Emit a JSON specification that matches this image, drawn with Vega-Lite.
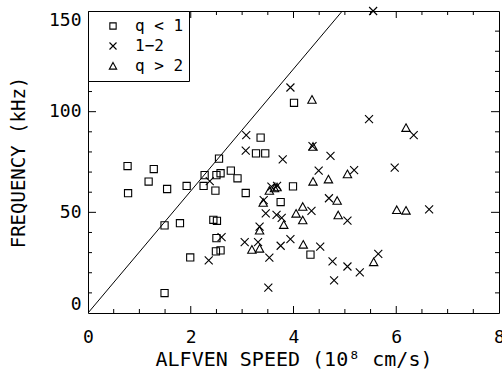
{
  "$schema": "https://vega.github.io/schema/vega-lite/v6.json",
  "width": 411,
  "height": 302,
  "autosize": {"type": "none"},
  "padding": {"left": 88, "top": 11, "right": 3, "bottom": 64},
  "background": "white",
  "config": {
    "view": {"stroke": "black", "strokeWidth": 1, "fill": "transparent"},
    "axis": {
      "grid": false,
      "domain": false,
      "ticks": false,
      "labelColor": "black",
      "titleColor": "black",
      "labelFont": "DejaVu Sans Mono",
      "titleFont": "DejaVu Sans Mono",
      "labelFontSize": 18,
      "titleFontSize": 19,
      "titleFontWeight": "normal"
    },
    "tick": {"thickness": 1, "color": "black", "opacity": 1},
    "legend": {
      "orient": "top-left",
      "offset": 0,
      "padding": 5,
      "strokeColor": "black",
      "fillColor": "white",
      "labelFont": "DejaVu Sans Mono",
      "labelFontSize": 16,
      "labelColor": "black",
      "symbolOffset": 12,
      "labelOffset": 14,
      "rowPadding": 0,
      "clipHeight": 20,
      "symbolStrokeWidth": 1.1,
      "symbolStrokeColor": "black",
      "symbolSize": 49,
      "zindex": 2
    }
  },
  "datasets": {
    "pts": [
      {"speed": 0.78, "freq": 59.5, "q": "q < 1"},
      {"speed": 0.77, "freq": 73, "q": "q < 1"},
      {"speed": 1.18, "freq": 65.3, "q": "q < 1"},
      {"speed": 1.28, "freq": 71.5, "q": "q < 1"},
      {"speed": 1.54, "freq": 61.6, "q": "q < 1"},
      {"speed": 1.49, "freq": 43.5, "q": "q < 1"},
      {"speed": 1.49, "freq": 9.9, "q": "q < 1"},
      {"speed": 1.79, "freq": 44.6, "q": "q < 1"},
      {"speed": 1.92, "freq": 63.1, "q": "q < 1"},
      {"speed": 1.99, "freq": 27.6, "q": "q < 1"},
      {"speed": 2.25, "freq": 63.1, "q": "q < 1"},
      {"speed": 2.27, "freq": 68.5, "q": "q < 1"},
      {"speed": 2.44, "freq": 46.3, "q": "q < 1"},
      {"speed": 2.48, "freq": 60.8, "q": "q < 1"},
      {"speed": 2.5, "freq": 68.5, "q": "q < 1"},
      {"speed": 2.51, "freq": 45.8, "q": "q < 1"},
      {"speed": 2.5, "freq": 37.2, "q": "q < 1"},
      {"speed": 2.49, "freq": 30.6, "q": "q < 1"},
      {"speed": 2.58, "freq": 31.1, "q": "q < 1"},
      {"speed": 2.55, "freq": 76.7, "q": "q < 1"},
      {"speed": 2.58, "freq": 69.4, "q": "q < 1"},
      {"speed": 2.78, "freq": 70.7, "q": "q < 1"},
      {"speed": 2.91, "freq": 66.9, "q": "q < 1"},
      {"speed": 3.07, "freq": 59.6, "q": "q < 1"},
      {"speed": 3.36, "freq": 87.1, "q": "q < 1"},
      {"speed": 3.27, "freq": 79.3, "q": "q < 1"},
      {"speed": 3.45, "freq": 79.3, "q": "q < 1"},
      {"speed": 3.75, "freq": 55.1, "q": "q < 1"},
      {"speed": 3.99, "freq": 62.9, "q": "q < 1"},
      {"speed": 4.01, "freq": 104.4, "q": "q < 1"},
      {"speed": 4.33, "freq": 29.0, "q": "q < 1"},
      {"speed": 5.55, "freq": 150, "q": "1−2"},
      {"speed": 3.94, "freq": 112, "q": "1−2"},
      {"speed": 5.47, "freq": 96.3, "q": "1−2"},
      {"speed": 6.34, "freq": 88.4, "q": "1−2"},
      {"speed": 3.08, "freq": 88.4, "q": "1−2"},
      {"speed": 3.07, "freq": 80.6, "q": "1−2"},
      {"speed": 3.79, "freq": 76.3, "q": "1−2"},
      {"speed": 4.72, "freq": 78, "q": "1−2"},
      {"speed": 4.49, "freq": 70.7, "q": "1−2"},
      {"speed": 5.18, "freq": 71, "q": "1−2"},
      {"speed": 5.97, "freq": 72.2, "q": "1−2"},
      {"speed": 4.37, "freq": 82.9, "q": "1−2"},
      {"speed": 4.69, "freq": 57, "q": "1−2"},
      {"speed": 4.35, "freq": 50.7, "q": "1−2"},
      {"speed": 5.05, "freq": 45.9, "q": "1−2"},
      {"speed": 6.64, "freq": 51.5, "q": "1−2"},
      {"speed": 3.46, "freq": 49.5, "q": "1−2"},
      {"speed": 3.42, "freq": 56.1, "q": "1−2"},
      {"speed": 3.67, "freq": 48.7, "q": "1−2"},
      {"speed": 3.77, "freq": 47.2, "q": "1−2"},
      {"speed": 3.57, "freq": 62.8, "q": "1−2"},
      {"speed": 3.68, "freq": 63.1, "q": "1−2"},
      {"speed": 3.34, "freq": 42.9, "q": "1−2"},
      {"speed": 3.05, "freq": 35.2, "q": "1−2"},
      {"speed": 3.31, "freq": 35.2, "q": "1−2"},
      {"speed": 2.6, "freq": 37.7, "q": "1−2"},
      {"speed": 2.35, "freq": 26.1, "q": "1−2"},
      {"speed": 3.53, "freq": 27.5, "q": "1−2"},
      {"speed": 3.51, "freq": 12.6, "q": "1−2"},
      {"speed": 3.75, "freq": 33.4, "q": "1−2"},
      {"speed": 3.94, "freq": 36.7, "q": "1−2"},
      {"speed": 4.52, "freq": 33, "q": "1−2"},
      {"speed": 4.76, "freq": 25.6, "q": "1−2"},
      {"speed": 4.79, "freq": 16.2, "q": "1−2"},
      {"speed": 5.05, "freq": 23.1, "q": "1−2"},
      {"speed": 5.29, "freq": 20.2, "q": "1−2"},
      {"speed": 5.65, "freq": 29.4, "q": "1−2"},
      {"speed": 2.37, "freq": 65.5, "q": "1−2"},
      {"speed": 4.36, "freq": 106, "q": "q > 2"},
      {"speed": 6.19, "freq": 92, "q": "q > 2"},
      {"speed": 4.38, "freq": 82.6, "q": "q > 2"},
      {"speed": 5.05, "freq": 69, "q": "q > 2"},
      {"speed": 4.68, "freq": 66.4, "q": "q > 2"},
      {"speed": 4.38, "freq": 65.3, "q": "q > 2"},
      {"speed": 6.01, "freq": 51.2, "q": "q > 2"},
      {"speed": 6.19, "freq": 50.9, "q": "q > 2"},
      {"speed": 4.85, "freq": 55.8, "q": "q > 2"},
      {"speed": 4.87, "freq": 48.6, "q": "q > 2"},
      {"speed": 4.05, "freq": 49.4, "q": "q > 2"},
      {"speed": 4.18, "freq": 52.8, "q": "q > 2"},
      {"speed": 4.18, "freq": 46.1, "q": "q > 2"},
      {"speed": 3.81, "freq": 43.8, "q": "q > 2"},
      {"speed": 4.19, "freq": 34, "q": "q > 2"},
      {"speed": 5.56, "freq": 25.3, "q": "q > 2"},
      {"speed": 3.41, "freq": 54.8, "q": "q > 2"},
      {"speed": 3.34, "freq": 41, "q": "q > 2"},
      {"speed": 3.34, "freq": 32, "q": "q > 2"},
      {"speed": 3.19, "freq": 31.5, "q": "q > 2"},
      {"speed": 3.53, "freq": 60.8, "q": "q > 2"},
      {"speed": 3.63, "freq": 62, "q": "q > 2"},
      {"speed": 3.68, "freq": 62.5, "q": "q > 2"}
    ],
    "diag": [
      {"speed": 0, "freq": 0},
      {"speed": 4.95, "freq": 150}
    ],
    "xmaj": [{"speed": 2}, {"speed": 4}, {"speed": 6}],
    "xmin": [{"speed": 0.5}, {"speed": 1}, {"speed": 1.5}, {"speed": 2.5}, {"speed": 3}, {"speed": 3.5}, {"speed": 4.5}, {"speed": 5}, {"speed": 5.5}, {"speed": 6.5}, {"speed": 7}, {"speed": 7.5}],
    "ymaj": [{"freq": 50}, {"freq": 100}],
    "ymin": [{"freq": 10}, {"freq": 20}, {"freq": 30}, {"freq": 40}, {"freq": 60}, {"freq": 70}, {"freq": 80}, {"freq": 90}, {"freq": 110}, {"freq": 120}, {"freq": 130}, {"freq": 140}]
  },
  "layer": [
    {
      "data": {"name": "pts"},
      "mark": {"type": "point", "filled": false, "stroke": "black", "strokeWidth": 1.1, "size": 64, "opacity": 1},
      "encoding": {
        "x": {
          "field": "speed", "type": "quantitative",
          "scale": {"domain": [0, 8], "nice": false, "zero": false},
          "axis": {"orient": "bottom", "values": [0, 2, 4, 6, 8], "labelPadding": 15, "labelFlush": false, "labelFontSize": 18, "title": "ALFVEN SPEED (10⁸ cm/s)", "titleFontSize": 20, "titlePadding": 3}
        },
        "y": {
          "field": "freq", "type": "quantitative",
          "scale": {"domain": [0, 150], "nice": false, "zero": false},
          "axis": {"orient": "left", "values": [0, 50, 100, 150], "labelPadding": 7, "labelFlush": true, "labelFontSize": 18, "title": "FREQUENCY (kHz)", "titleFontSize": 19, "titlePadding": 20}
        },
        "shape": {
          "field": "q", "type": "nominal",
          "scale": {
            "domain": ["q < 1", "1−2", "q > 2"],
            "range": ["M-0.9,-0.9H0.9V0.9H-0.9Z", "M-1,-1L1,1M-1,1L1,-1", "M0,-1L1.05,0.9L-1.05,0.9Z"]
          },
          "legend": {"title": null, "labelExpr": "(datum.label === '1−2' ? '\u00a0\u00a01−2' : datum.label) + '\u00a0'"}
        }
      }
    },
    {
      "data": {"name": "diag"},
      "mark": {"type": "line", "stroke": "black", "strokeWidth": 1, "clip": true},
      "encoding": {
        "x": {"field": "speed", "type": "quantitative", "axis": null},
        "y": {"field": "freq", "type": "quantitative", "axis": null}
      }
    },
    {
      "data": {"name": "xmaj"},
      "mark": {"type": "tick", "orient": "vertical", "size": 14, "thickness": 1, "color": "black", "clip": true},
      "encoding": {
        "x": {"field": "speed", "type": "quantitative", "axis": null},
        "y": {"datum": 0, "type": "quantitative", "axis": null}
      }
    },
    {
      "data": {"name": "xmaj"},
      "mark": {"type": "tick", "orient": "vertical", "size": 14, "thickness": 1, "color": "black", "clip": true},
      "encoding": {
        "x": {"field": "speed", "type": "quantitative", "axis": null},
        "y": {"datum": 150, "type": "quantitative", "axis": null}
      }
    },
    {
      "data": {"name": "xmin"},
      "mark": {"type": "tick", "orient": "vertical", "size": 8, "thickness": 1, "color": "black", "clip": true},
      "encoding": {
        "x": {"field": "speed", "type": "quantitative", "axis": null},
        "y": {"datum": 0, "type": "quantitative", "axis": null}
      }
    },
    {
      "data": {"name": "xmin"},
      "mark": {"type": "tick", "orient": "vertical", "size": 8, "thickness": 1, "color": "black", "clip": true},
      "encoding": {
        "x": {"field": "speed", "type": "quantitative", "axis": null},
        "y": {"datum": 150, "type": "quantitative", "axis": null}
      }
    },
    {
      "data": {"name": "ymaj"},
      "mark": {"type": "tick", "orient": "horizontal", "size": 16, "thickness": 1, "color": "black", "clip": true},
      "encoding": {
        "y": {"field": "freq", "type": "quantitative", "axis": null},
        "x": {"datum": 0, "type": "quantitative", "axis": null}
      }
    },
    {
      "data": {"name": "ymaj"},
      "mark": {"type": "tick", "orient": "horizontal", "size": 16, "thickness": 1, "color": "black", "clip": true},
      "encoding": {
        "y": {"field": "freq", "type": "quantitative", "axis": null},
        "x": {"datum": 8, "type": "quantitative", "axis": null}
      }
    },
    {
      "data": {"name": "ymin"},
      "mark": {"type": "tick", "orient": "horizontal", "size": 8, "thickness": 1, "color": "black", "clip": true},
      "encoding": {
        "y": {"field": "freq", "type": "quantitative", "axis": null},
        "x": {"datum": 0, "type": "quantitative", "axis": null}
      }
    },
    {
      "data": {"name": "ymin"},
      "mark": {"type": "tick", "orient": "horizontal", "size": 8, "thickness": 1, "color": "black", "clip": true},
      "encoding": {
        "y": {"field": "freq", "type": "quantitative", "axis": null},
        "x": {"datum": 8, "type": "quantitative", "axis": null}
      }
    }
  ],
  "resolve": {"axis": {"x": "independent", "y": "independent"}}
}
